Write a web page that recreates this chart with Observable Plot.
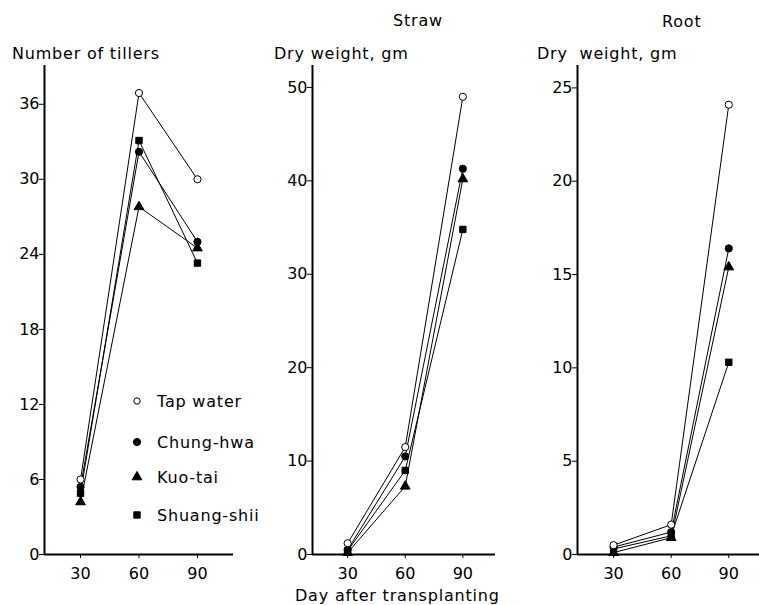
<!DOCTYPE html>
<html>
<head>
<meta charset="utf-8">
<script src="https://cdn.jsdelivr.net/npm/d3@7"></script>
<script src="https://cdn.jsdelivr.net/npm/@observablehq/plot@0.6"></script>
<style>
  html, body { margin: 0; padding: 0; background: #fff; }
  #root { position: relative; width: 759px; height: 605px; overflow: hidden; font-family: "DejaVu Sans", sans-serif; color: #000; }
  .panel { position: absolute; top: 0; }
  .lbl { position: absolute; font-size: 16px; letter-spacing: 0.8px; white-space: pre; line-height: 1; }
</style>
</head>
<body>
<div id="root"></div>
<script>
const days = [30, 60, 90];
const seriesNames = ["Tap water", "Chung-hwa", "Kuo-tai", "Shuang-shii"];
const tillers = [[6.0, 36.9, 30.0], [5.4, 32.2, 25.0], [4.2, 27.8, 24.5], [4.9, 33.1, 23.3]];
const straw   = [[1.2, 11.5, 49.0], [0.5, 10.5, 41.3], [0.2, 7.3, 40.2], [0.4, 9.0, 34.8]];
const rootDW  = [[0.5, 1.6, 24.1], [0.4, 1.2, 16.4], [0.1, 0.9, 15.4], [0.3, 1.0, 10.3]];
const tillerTicks = [0, 6, 12, 18, 24, 30, 36];
const strawTicks = [0, 10, 20, 30, 40, 50];
const rootTicks = [0, 5, 10, 15, 20, 25];
const symbols = ["circle", "circle", "triangle", "square"];

function toRows(values) {
  const rows = [];
  seriesNames.forEach((s, i) => days.forEach((d, j) => rows.push({series: s, day: d, value: values[i][j]})));
  return rows;
}

const container = document.getElementById("root");

function panel({values, ticks, xDomain, yMax, left, width, marginLeft, marginRight}) {
  const rows = toRows(values);
  const dotOpts = (fill) => ({x: "day", y: "value", symbol: "series", r: 3.6, fill, stroke: "black", strokeWidth: 1});
  const plot = Plot.plot({
    width, height: 605,
    marginLeft, marginRight, marginTop: 65, marginBottom: 51,
    style: {fontFamily: "DejaVu Sans, sans-serif", fontSize: "16px", color: "black", background: "transparent", overflow: "visible"},
    x: {domain: xDomain, axis: null},
    y: {domain: [0, yMax], axis: null},
    symbol: {domain: seriesNames, range: symbols},
    marks: [
      Plot.ruleX([xDomain[0]], {stroke: "black", strokeWidth: 2}),
      Plot.ruleY([0], {stroke: "black", strokeWidth: 2}),
      Plot.axisY({ticks, tickFormat: d => String(d), tickSize: 5, tickPadding: 0, anchor: "left", label: null, fontSize: 16}),
      Plot.axisX({ticks: days, tickFormat: d => String(d), tickSize: 4, tickPadding: 9, anchor: "bottom", label: null, fontSize: 16}),
      Plot.line(rows, {x: "day", y: "value", z: "series", stroke: "black", strokeWidth: 1}),
      Plot.dot(rows.filter(d => d.series !== "Tap water"), dotOpts("black")),
      Plot.dot(rows.filter(d => d.series === "Tap water"), dotOpts("white"))
    ]
  });
  plot.classList.add("panel");
  plot.style.left = left + "px";
  container.appendChild(plot);
}

panel({values: tillers, ticks: tillerTicks, xDomain: [11.5, 108.5], yMax: 39.1, left: 0, width: 245, marginLeft: 44, marginRight: 12});
panel({values: straw, ticks: strawTicks, xDomain: [11.7, 107], yMax: 52.35, left: 260, width: 240, marginLeft: 52, marginRight: 5});
panel({values: rootDW, ticks: rootTicks, xDomain: [11.2, 106], yMax: 26.2, left: 520, width: 239, marginLeft: 57, marginRight: 0});

function label(text, x, y) {
  const d = document.createElement("div");
  d.className = "lbl";
  d.textContent = text;
  d.style.left = x + "px";
  d.style.top = y + "px";
  container.appendChild(d);
}
label("Number of tillers", 12, 46);
label("Dry weight, gm", 274, 46);
label("Dry  weight, gm", 537, 46);
label("Straw", 393, 13);
label("Root", 662, 14);
label("Day after transplanting", 295, 588);

// legend
const leg = d3.select(container).append("svg")
  .attr("width", 140).attr("height", 150)
  .style("position", "absolute").style("left", "125px").style("top", "385px")
  .style("font-family", "DejaVu Sans, sans-serif").style("font-size", "16px").style("letter-spacing", "0.8px");
const symMap = {circle: d3.symbolCircle, triangle: d3.symbolTriangle, square: d3.symbolSquare};
const legY = [16, 57, 92, 130];
seriesNames.forEach((s, i) => {
  const g = leg.append("g").attr("transform", `translate(12,${legY[i]})`);
  const r = i === 0 ? 3.2 : 3.6;
  g.append("path").attr("d", d3.symbol(symMap[symbols[i]], Math.PI * r * r)())
    .attr("fill", i === 0 ? "white" : "black").attr("stroke", "black").attr("stroke-width", 1);
  g.append("text").attr("x", 20).attr("dy", "0.35em").text(s);
});
</script>
</body>
</html>
